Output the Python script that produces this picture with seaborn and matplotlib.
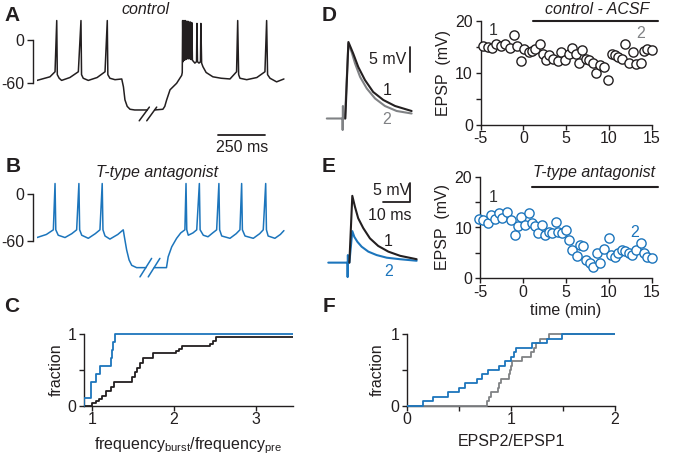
import numpy as np
import matplotlib
matplotlib.use("Agg")
import matplotlib.pyplot as plt
import seaborn as sns

W, H = 682, 457
BLACK = "#231f20"
BLUE = "#1c75bc"
GREY = "#808285"

# --- A: control trace (ms, mV), before and after the break ---
a_t1 = [0, 69, 96, 105, 108, 118, 131, 175, 220, 234, 237, 246, 273, 320, 362, 374, 377, 388,
        415, 451, 460, 468, 480, 495, 520, 587]
a_v1 = [-56, -51, -44, 27, -48, -53, -56, -52, -44, 27, -48, -53, -56, -52, -44, 27, -48, -53,
        -55, -54, -65, -83, -92, -96, -97, -97]
a_t2 = [626, 670, 680, 690, 708, 743, 770, 773, 775, 778, 782, 785, 789, 792, 796, 799, 803, 806,
        810, 813, 817, 820, 824, 827, 840, 849, 851, 854, 862, 870, 872, 876, 883, 900, 936, 980,
        1027, 1062, 1068, 1073, 1080, 1116, 1170, 1213, 1222, 1227, 1240, 1275, 1314]
a_v2 = [-97, -96, -92, -83, -69, -60, -49, -45, 27, -30, 27, -28, 27, -27, 26, -26, 26, -26,
        25, -26, 25, -27, 24, -28, -32, -30, 23, -30, -32, -30, 23, -32, -37, -45, -51, -53,
        -54, -44, 27, -48, -53, -55, -52, -44, 27, -48, -53, -58, -54]
a_break_t = [[544, 598], [584, 637]]
a_break_v = [-112, -93]

# --- B: T-type antagonist trace ---
b_t1 = [0, 50, 87, 96, 100, 113, 149, 185, 211, 223, 227, 238, 273, 310, 335, 347, 351, 362,
        388, 430, 459, 465, 477, 490, 504, 530, 580]
b_v1 = [-56, -52, -46, 14, -46, -53, -56, -51, -46, 14, -46, -53, -57, -51, -46, 14, -46, -54,
        -58, -52, -46, -55, -72, -85, -92, -95, -95]
b_t2 = [624, 689, 698, 717, 743, 765, 787, 793, 797, 805, 830, 850, 864, 868, 885, 910, 935,
        956, 968, 972, 983, 1027, 1060, 1080, 1089, 1093, 1107, 1151, 1185, 1204, 1217, 1221,
        1230, 1266, 1295, 1314]
b_v2 = [-95, -95, -81, -68, -57, -50, -46, 14, -46, -53, -50, -46, 14, -46, -53, -55, -50,
        -46, 14, -46, -54, -57, -51, -46, 14, -46, -54, -57, -51, -46, 14, -46,
        -54, -57, -52, -47]
b_break_t = [[548, 610], [592, 654]]
b_break_v = [-107, -83]

# --- C: frequency ratio (burst / pre) ---
c_ctrl = [1.00, 1.05, 1.08, 1.12, 1.17, 1.17, 1.23, 1.23, 1.27, 1.27, 1.49, 1.49, 1.52, 1.52,
          1.55, 1.55, 1.58, 1.58, 1.62, 1.62, 1.74, 1.74, 2.03, 2.06, 2.10, 2.44, 2.48, 2.52,
          2.52, 3.60]
c_ttx = [0.905, 0.988, 0.988, 1.05, 1.10, 1.225, 1.24, 1.255, 1.285]

# --- D: control EPSP traces (ms, mV) and time course ---
d_grey_t = [-5.6, 0.0, 0.3, 0.35, 0.45, 0.5, 1.2, 2.5, 3.7, 5.0, 6.9, 9.4, 12.5, 16.2, 20.6, 26.2]
d_grey_v = [0, 0, 0, -2.3, 2.5, 0, 0, 15.0, 13.3, 11.0, 8.3, 6.0, 4.0, 2.5, 1.5, 1.0]
d_black_t = [1.35, 2.5, 4.3, 6.2, 8.7, 11.8, 15.6, 20.0, 26.2]
d_black_v = [0, 15.3, 13.0, 10.3, 7.7, 5.3, 3.7, 2.5, 1.5]

d_time = [-4.7, -4.2, -3.7, -3.2, -2.6, -2.1, -1.6, -1.1, -0.7, -0.3, 0.1, 0.6, 1.0, 1.4,
          1.9, 2.3, 2.6, 3.0, 3.5, 4.0, 4.4, 4.9, 5.3, 5.7, 6.1, 6.5, 6.9, 7.3, 7.7, 8.1,
          8.5, 9.0, 9.4, 9.9, 10.3, 10.7, 11.1, 11.5, 11.9, 12.3, 12.8, 13.2, 13.7, 14.1,
          14.5, 15.0]
d_epsp = [15.1, 15.0, 14.8, 15.5, 15.1, 15.5, 14.8, 17.2, 15.1, 12.3, 14.6, 14.0, 14.2, 14.5,
          15.5, 13.7, 12.4, 13.4, 12.7, 12.3, 14.0, 12.4, 13.7, 14.8, 13.7, 11.8, 14.3, 12.7,
          12.4, 11.9, 9.9, 11.5, 11.1, 8.7, 13.7, 13.4, 13.1, 12.7, 15.5, 11.9, 14.0, 11.7,
          11.8, 14.2, 14.5, 14.3]

# --- E: T-type antagonist EPSP traces and time course ---
e_blue_t = [-6.9, 0.0, 0.3, 0.35, 0.45, 0.5, 1.0, 2.1, 2.85, 4.0, 5.6, 8.1, 11.2, 15.0, 20.0, 26.2]
e_blue_v = [0, 0, 0, -3.8, 2.0, 0, 0, 8.3, 6.8, 5.5, 4.2, 2.9, 2.0, 1.3, 0.9, 0.5]
e_black_t = [1.0, 2.1, 3.1, 4.3, 6.2, 8.7, 11.8, 15.6, 20.0, 26.2]
e_black_v = [0, 17.6, 14.7, 11.7, 9.1, 6.4, 4.4, 2.9, 1.8, 0.9]

e_time = [-5.1, -4.6, -4.1, -3.7, -3.2, -2.8, -2.4, -1.8, -1.4, -0.9, -0.6, -0.2, 0.2, 0.65,
          1.0, 1.4, 1.8, 2.2, 2.6, 3.0, 3.4, 3.8, 4.1, 4.5, 5.0, 5.35, 5.75, 6.25, 6.65, 7.0,
          7.4, 7.8, 8.2, 8.6, 9.0, 9.4, 10.0, 10.3, 10.7, 11.1, 11.5, 11.9, 12.3, 12.7, 13.2,
          13.7, 14.1, 14.5, 15.0]
e_epsp = [11.6, 11.5, 10.8, 12.5, 11.6, 12.8, 11.8, 13.1, 11.5, 8.5, 10.3, 12.0, 10.5, 12.8,
          10.8, 10.3, 8.9, 10.5, 8.5, 9.2, 8.9, 11.0, 9.2, 8.9, 9.6, 7.5, 5.6, 4.4, 6.6, 6.4,
          3.7, 3.0, 2.2, 5.0, 3.0, 5.7, 7.9, 4.6, 4.1, 4.9, 5.6, 5.4, 5.0, 4.6, 5.6,
          6.9, 4.9, 4.1, 3.9]

# --- F: EPSP2/EPSP1 ---
f_ctrl = [0.77, 0.79, 0.81, 0.87, 0.88, 0.90, 0.98, 0.99, 1.0, 1.01, 1.10, 1.19, 1.22, 1.24,
          1.28, 1.36]
f_ttx = [0.15, 0.25, 0.395, 0.50, 0.56, 0.67, 0.72, 0.78, 0.88, 0.94, 1.0, 1.03, 1.045, 1.2,
         1.35, 1.49]

sns.set_theme(style="ticks")
plt.rcParams.update({
    "font.family": ["Liberation Sans", "DejaVu Sans"],
    "font.size": 11.5,
    "axes.labelsize": 11.5,
    "xtick.labelsize": 11.5,
    "ytick.labelsize": 11.5,
    "axes.unicode_minus": False,
    "mathtext.default": "regular",
    "axes.linewidth": 1.0,
    "axes.edgecolor": BLACK,
    "axes.labelcolor": BLACK,
    "text.color": BLACK,
    "xtick.color": BLACK,
    "ytick.color": BLACK,
    "xtick.major.width": 1.0,
    "ytick.major.width": 1.0,
    "xtick.major.size": 3.6,
    "ytick.major.size": 3.6,
    "xtick.minor.width": 1.0,
    "ytick.minor.width": 1.0,
    "xtick.minor.size": 3.6,
    "ytick.minor.size": 3.6,
    "axes.facecolor": "none",
})

fig = plt.figure(figsize=(W / 100, H / 100), dpi=100)


def px_axes(x0, y0, x1, y1):
    return fig.add_axes([x0 / W, 1 - y1 / H, (x1 - x0) / W, (y1 - y0) / H])


def fig_text(x, y, s, **kw):
    kw.setdefault("ha", "center")
    kw.setdefault("va", "center")
    fig.text(x / W, 1 - y / H, s, **kw)


def trace_axes(ax, t1, v1, t2, v2, brk_t, brk_v, color, ylim):
    ax.plot(t1, v1, color=color, lw=1.1)
    ax.plot(t2, v2, color=color, lw=1.1)
    for bt in brk_t:
        ax.plot(bt, brk_v, color=color, lw=1.1)
    ax.set_xlim(0, 1357)
    ax.set_ylim(*ylim)
    for s in ["top", "right", "bottom"]:
        ax.spines[s].set_visible(False)
    ax.spines["left"].set_bounds(-60, 0)
    ax.spines["left"].set_position(("outward", 3))
    ax.set_xticks([])
    ax.set_yticks([-60, 0])
    ax.set_yticklabels(["-60", "0"])
    ax.tick_params(axis="y", length=4.3, pad=2)


def ecdf(ax, vals, color, xlim):
    # seaborn draws the steps; stretch the first and last flats to the axis edges
    sns.ecdfplot(x=vals, ax=ax, color=color, linewidth=1.3, zorder=3)
    line = ax.lines[-1]
    x, y = (np.asarray(a, dtype=float) for a in line.get_data())
    keep = np.isfinite(x)
    x, y = x[keep], y[keep]
    line.set_data(np.r_[xlim[0], x, max(xlim[1], x[-1])], np.r_[0, y, y[-1]])


# A
axA = px_axes(37, 15, 292, 150)
trace_axes(axA, a_t1, a_v1, a_t2, a_v2, a_break_t, a_break_v, BLACK, (-152.5, 34.7))
axA.plot([963, 1213], [-131.7, -131.7], color=BLACK, lw=1.3, clip_on=False)
fig_text(242, 147, "250 ms")
fig_text(145, 9.5, "control", style="italic")

# B
axB = px_axes(37, 165, 292, 285)
trace_axes(axB, b_t1, b_v1, b_t2, b_v2, b_break_t, b_break_v, BLUE, (-117.5, 38))
fig_text(157, 172.5, "T-type antagonist", style="italic")


def cdf_axes(ax, xlim, xticks, xlabels, minor=None):
    ax.set_xlim(*xlim)
    ax.set_ylim(-0.03, 1.03)
    sns.despine(ax=ax)
    ax.spines["bottom"].set_position(("data", 0))
    ax.spines["left"].set_bounds(0, 1)
    ax.set_yticks([0, 0.5, 1])
    ax.set_yticklabels(["0", "", "1"])
    ax.set_xticks(xticks)
    ax.set_xticklabels(xlabels)
    if minor is not None:
        ax.set_xticks(minor, minor=True)
    ax.tick_params(axis="x", which="both", pad=1)
    ax.tick_params(axis="y", pad=2)
    ax.set_ylabel("fraction")


# C
c_xlim = (0.9, 3.46)
axC = px_axes(84, 332.2, 293.3, 407.8)
ecdf(axC, c_ctrl, BLACK, c_xlim)
ecdf(axC, c_ttx, BLUE, c_xlim)
cdf_axes(axC, c_xlim, [1, 2, 3], ["1", "2", "3"])
axC.set_xlabel("frequency$_{burst}$/frequency$_{pre}$")
axC.xaxis.set_label_coords(0.5, -0.36)
axC.yaxis.set_label_coords(-0.095, 0.5)

# F
f_xlim = (0, 2)
axF = px_axes(407.3, 331.9, 615, 408.1)
ecdf(axF, f_ctrl, GREY, f_xlim)
ecdf(axF, f_ttx, BLUE, f_xlim)
cdf_axes(axF, f_xlim, [0, 1, 2], ["0", "1", "2"], minor=[0.5, 1.5])
axF.set_xlabel("EPSP2/EPSP1")
axF.xaxis.set_label_coords(0.5, -0.34)
axF.yaxis.set_label_coords(-0.11, 0.5)


def epsp_axes(ax, t, v, edge):
    sns.scatterplot(x=t, y=v, ax=ax, s=44, color="white", edgecolor=edge, linewidth=1.0,
                    zorder=3, clip_on=False)
    ax.set_xlim(-5, 15)
    ax.set_ylim(0, 20)
    sns.despine(ax=ax)
    ax.set_xticks([-5, 0, 5, 10, 15])
    ax.set_yticks([0, 10, 20])
    ax.set_yticks([5, 15], minor=True)
    ax.tick_params(axis="x", pad=1)
    ax.tick_params(axis="y", which="both", pad=2)
    ax.set_ylabel("EPSP  (mV)")
    ax.yaxis.set_label_coords(-0.175, 0.5)


# D
axDi = px_axes(322, 35, 422, 135)
axDi.plot(d_grey_t, d_grey_v, color=GREY, lw=1.5)
axDi.plot(d_black_t, d_black_v, color=BLACK, lw=1.5)
axDi.plot([25.6, 25.6], [9.3, 14.3], color=BLACK, lw=1.3)
axDi.text(24.3, 11.8, "5 mV", ha="right", va="center")
axDi.text(16.9, 5.6, "1", ha="center", va="center")
axDi.text(16.9, -0.2, "2", ha="center", va="center", color=GREY)
axDi.set_xlim(-7.4, 30.1)
axDi.set_ylim(-3.3, 16.7)
axDi.axis("off")

axD = px_axes(480.7, 20.7, 651.7, 125)
epsp_axes(axD, d_time, d_epsp, BLACK)
axD.plot([1.15, 15.7], [20, 20], color=BLACK, lw=1.5, clip_on=False)
axD.text(-3.5, 18.2, "1", ha="center", va="center", color="#333333")
axD.text(13.7, 17.6, "2", ha="center", va="center", color=GREY)
fig_text(597.5, 10, "control - ACSF", style="italic")

# E
axEi = px_axes(322, 178, 422, 282)
axEi.plot(e_blue_t, e_blue_v, color=BLUE, lw=1.5)
axEi.plot(e_black_t, e_black_v, color=BLACK, lw=1.5)
axEi.plot([13.7, 23.7, 23.7], [15.9, 15.9, 20.9], color=BLACK, lw=1.3)
axEi.text(16.9, 19.1, "5 mV", ha="center", va="center")
axEi.text(16.2, 12.3, "10 ms", ha="center", va="center")
axEi.text(15.6, 5.5, "1", ha="center", va="center")
axEi.text(15.6, -2.4, "2", ha="center", va="center", color=BLUE)
axEi.set_xlim(-9.25, 28.2)
axEi.set_ylim(-5.1, 22.3)
axEi.axis("off")

axE = px_axes(480, 176.7, 651.7, 278.3)
epsp_axes(axE, e_time, e_epsp, BLUE)
axE.plot([1.1, 15.7], [18, 18], color=BLACK, lw=1.5, clip_on=False)
axE.text(-3.5, 16, "1", ha="center", va="center", color="#333333")
axE.text(13.0, 9, "2", ha="center", va="center", color=BLUE)
axE.set_xlabel("time (min)")
axE.xaxis.set_label_coords(0.5, -0.24)
fig_text(594, 172.5, "T-type antagonist", style="italic")

# panel letters
for letter, x, y in [("A", 12, 15.5), ("B", 13, 166.5), ("C", 12, 306.5),
                     ("D", 329, 15.5), ("E", 329, 166.5), ("F", 329, 306.5)]:
    fig_text(x, y, letter, fontsize=15, fontweight="bold")

fig.savefig("out.png", dpi=100)
